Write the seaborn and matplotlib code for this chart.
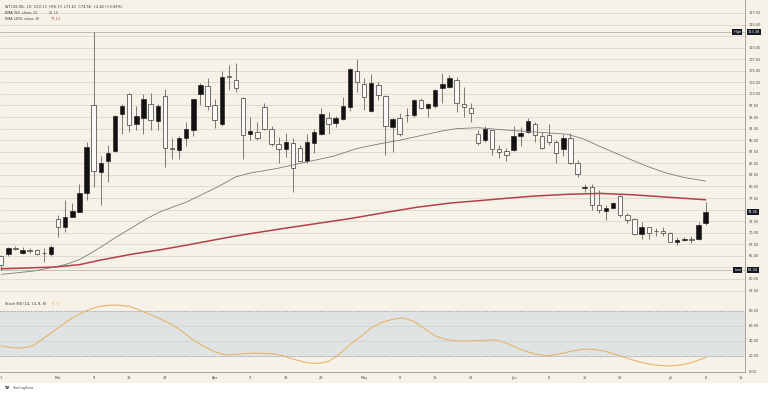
import numpy as np
import pandas as pd
import matplotlib
matplotlib.use("Agg")
import matplotlib.pyplot as plt
import matplotlib.transforms as mtransforms
from matplotlib.patches import Rectangle
import seaborn as sns

# daily candles (black = up, hollow = down)
opens = [65.0, 65.3, 66.8, 65.7, 66.2, 66.3, 65.7, 65.3, 73.05, 71.2,
         73.5, 74.5, 78.5, 97.6, 83.1, 85.5, 87.6, 95.6, 100.0, 93.4,
         94.9, 97.9, 94.1, 99.5, 88.3, 87.8, 90.4, 92.2, 100.0, 101.7,
         97.6, 93.6, 103.8, 103.1, 99.2, 91.3, 91.8, 97.1, 92.5, 89.1,
         88.0, 89.4, 88.3, 85.5, 89.4, 91.4, 94.7, 93.7, 94.5, 97.2,
         105.0, 102.1, 96.3, 101.9, 99.5, 92.9, 94.7, 95.4, 95.4, 98.7,
         96.9, 97.4, 101.2, 101.5, 103.1, 97.9, 96.9, 91.4, 90.0, 92.3,
         88.2, 87.6, 87.8, 90.9, 91.8, 93.6, 90.9, 91.2, 89.6, 88.1,
         90.4, 85.0, 79.7, 79.9, 75.9, 74.8, 75.4, 77.9, 73.8, 73.05,
         69.8, 71.2, 70.45, 70.4, 69.9, 68.0, 68.4, 68.55, 68.6, 72.13]
highs = [65.2, 67.0, 67.2, 66.9, 66.8, 66.5, 66.6, 67.4, 73.8, 77.0,
         76.4, 80.5, 89.6, 113.38, 86.5, 88.9, 95.5, 97.9, 100.2, 97.4,
         100.0, 100.2, 97.9, 101.0, 90.4, 90.9, 94.0, 98.9, 102.3, 103.4,
         98.9, 105.0, 106.2, 106.6, 99.4, 95.0, 94.0, 98.1, 93.0, 90.6,
         91.6, 90.4, 89.0, 91.4, 92.5, 96.9, 96.2, 95.3, 99.4, 105.5,
         107.5, 103.4, 104.4, 102.6, 99.7, 94.7, 95.8, 96.9, 98.9, 99.2,
         98.0, 101.0, 104.6, 104.0, 103.6, 101.5, 98.1, 92.1, 93.0, 92.3,
         89.0, 88.3, 93.0, 92.9, 94.8, 94.0, 91.8, 93.5, 90.1, 91.4,
         91.6, 85.7, 80.6, 80.5, 79.2, 75.9, 76.6, 78.1, 74.3, 73.1,
         72.3, 71.3, 71.1, 71.2, 70.1, 69.0, 69.0, 69.2, 72.3, 76.73]
lows = [62.04, 64.9, 66.2, 65.4, 65.7, 65.2, 63.6, 65.0, 69.0, 70.2,
        73.4, 74.4, 77.0, 79.9, 76.1, 81.0, 87.4, 91.4, 91.8, 92.3,
        91.4, 92.2, 92.2, 84.2, 86.0, 86.0, 88.7, 90.9, 97.6, 96.5,
        92.6, 93.0, 100.8, 100.5, 86.0, 90.0, 90.0, 92.2, 88.7, 85.0,
        86.4, 78.8, 85.4, 85.1, 87.2, 91.1, 91.4, 92.8, 94.3, 96.3,
        100.5, 96.6, 96.1, 98.6, 86.8, 87.5, 90.9, 94.0, 95.1, 96.7,
        95.1, 97.0, 98.1, 101.2, 96.1, 95.0, 94.0, 89.0, 89.7, 86.8,
        86.1, 85.4, 87.7, 88.7, 91.6, 89.7, 88.2, 88.9, 85.0, 86.6,
        84.8, 82.1, 78.8, 74.9, 74.3, 72.8, 75.3, 73.3, 72.2, 69.6,
        68.7, 68.6, 69.4, 69.3, 68.0, 67.3, 68.3, 67.8, 68.4, 71.61]
closes = [63.0, 66.7, 66.5, 66.3, 66.1, 65.5, 65.6, 67.0, 71.2, 73.5,
          74.6, 78.5, 88.5, 83.3, 85.1, 87.3, 95.2, 97.4, 93.2, 95.2,
          98.8, 94.3, 97.4, 88.3, 88.1, 90.4, 92.5, 98.9, 101.9, 97.4,
          94.3, 103.7, 103.6, 101.2, 91.1, 91.9, 90.4, 92.5, 89.1, 88.2,
          89.6, 83.9, 85.5, 89.6, 91.8, 95.6, 93.4, 94.8, 97.4, 105.3,
          102.5, 99.4, 102.4, 99.7, 93.0, 94.5, 91.4, 95.5, 98.7, 96.9,
          97.8, 100.8, 102.1, 103.4, 98.1, 97.1, 95.9, 89.4, 92.5, 88.2,
          87.5, 86.9, 90.9, 91.6, 94.1, 91.1, 88.4, 89.6, 87.3, 90.4,
          85.1, 82.8, 79.9, 75.9, 75.0, 75.4, 76.4, 73.9, 72.7, 69.8,
          71.2, 69.9, 70.35, 70.0, 68.0, 68.5, 68.7, 68.45, 71.75, 74.56]

# moving averages and Stoch RSI %K, sampled along the bars
ema50_bar = [0, 4.5, 7.6, 9.2, 11, 12.5, 14, 16.2, 18.5, 20.4, 22.3, 24.2, 26, 28, 30.3, 33, 35,
             38.8, 42, 46.6, 50, 52.8, 56, 59.3, 62, 64, 67, 70, 74.7, 79.5, 81.8, 84.2, 86.5,
             88.8, 91.2, 93.5, 95.8, 99]
ema50 = [61.0, 61.7, 62.6, 63.2, 64.2, 65.5, 66.9, 69.1, 71.2, 73.0, 74.5, 75.6, 76.6, 78.1,
         79.8, 82.1, 82.9, 83.9, 85.0, 86.5, 88.2, 89.1, 90.0, 91.1, 92.0, 92.5, 92.7, 92.3,
         91.8, 91.3, 90.3, 88.6, 87.1, 85.6, 84.1, 82.9, 82.0, 81.16]
ema200_bar = [0, 4, 7.6, 11, 14, 18.5, 22.3, 26, 29.8, 32.6, 35, 39.6, 44.4, 49, 53.7, 58.4, 63,
              67.7, 71.5, 74.7, 79.5, 84.2, 88.8, 93.5, 99]
ema200 = [62.2, 62.4, 62.6, 63.1, 64.1, 65.4, 66.3, 67.3, 68.4, 69.2, 69.8, 70.9, 72.0, 73.05,
          74.3, 75.5, 76.4, 77.0, 77.5, 77.9, 78.3, 78.5, 78.2, 77.7, 77.12]
stoch_bar = [0, 1.5, 3, 4.5, 6, 7.5, 9, 10.5, 12, 13.5, 15, 16.5, 18, 19.5, 21, 22.5, 24, 25.5,
             27, 28.5, 30, 31.5, 33, 35, 37, 38.5, 40, 41.5, 43, 44.5, 46, 47.5, 49, 50.5, 52,
             53.5, 55, 56.5, 58, 59.5, 61, 62.5, 64, 66, 68, 69.5, 71, 73, 75, 76.7, 78.5, 80,
             81.8, 83.5, 85, 86.5, 88, 89.5, 91, 92.5, 94, 95.5, 97, 99]
stoch_k = [33.3, 31.0, 30.5, 33.5, 43.5, 53.5, 64.0, 73.0, 80.0, 85.0, 87.0, 87.2, 85.5, 80.5,
           74.5, 68.5, 61.5, 52.0, 41.0, 32.5, 25.5, 21.3, 21.8, 23.6, 23.2, 22.7, 19.0, 14.5,
           11.0, 10.0, 12.5, 22.0, 34.7, 45.5, 57.0, 64.5, 68.5, 70.2, 65.7, 56.0, 46.5, 41.5,
           40.0, 40.0, 40.5, 41.3, 37.0, 28.5, 22.5, 20.0, 22.7, 26.0, 28.9, 28.5, 25.8, 21.5,
           16.9, 12.5, 9.3, 7.3, 6.7, 8.0, 11.0, 17.71]

tick_bar = [0, 8, 13, 18, 23, 30, 35, 40, 45, 51, 56, 61, 66, 72, 77, 82, 87, 94, 99, 104]
tick_text = ["1", "Mar", "9", "16", "23", "Apr", "9", "16", "23", "May", "8", "15", "22",
             "Jun", "8", "15", "22", "Jul", "8", "15"]
price_grid = [57.5, 60.0, 62.5, 65.0, 67.5, 70.0, 72.5, 75.0, 77.5, 80.0, 82.5, 85.0, 87.5, 90.0,
              92.5, 95.0, 97.5, 100.0, 102.5, 105.0, 107.5, 110.0, 112.5, 115.0, 117.5]
price_labels = [p for p in price_grid if p not in (62.5, 75.0, 112.5)]
stoch_labels = [0, 20, 40, 60, 80]

BG = "#f6f2e8"
GRID = "#ddd8cc"
FS = 2.5

sns.set_theme(style="white")
plt.rcParams["font.family"] = ["DejaVu Sans"]

df = pd.DataFrame({"bar": range(len(opens)), "open": opens, "high": highs,
                   "low": lows, "close": closes})
df["up"] = df["close"] >= df["open"]
df["bottom"] = df[["open", "close"]].min(axis=1)
df["height"] = (df["close"] - df["open"]).abs().clip(lower=0.12)

fig = plt.figure(figsize=(7.68, 3.94), dpi=100, facecolor="white")
fig.patches.append(Rectangle((0, 1 - 383 / 394), 1, 383 / 394, transform=fig.transFigure,
                             facecolor=BG, edgecolor="none", zorder=-10))

ax = fig.add_axes([0, 1 - 297.5 / 394, 745 / 768, 297.5 / 394])
ax_s = fig.add_axes([0, 1 - 372 / 394, 745 / 768, 74.5 / 394], sharex=ax)
for a in (ax, ax_s):
    a.set_facecolor(BG)
    for side in ("left", "top"):
        a.spines[side].set_visible(False)
    for side in ("right", "bottom"):
        a.spines[side].set_color("#9c9890")
        a.spines[side].set_linewidth(0.6)

# price pane
for p in price_grid:
    ax.axhline(p, color=GRID, lw=0.6, zorder=0)
ax.axhline(113.38, color="#b9b5ac", lw=0.6, zorder=0)
ax.axhline(62.04, color="#b9b5ac", lw=0.6, zorder=0)

ax.vlines(df["bar"], df["low"], df["high"], color="#4a4a4a", lw=0.5, zorder=2)
up = df[df["up"]]
dn = df[~df["up"]]
ax.bar(up["bar"], up["height"], bottom=up["bottom"], width=0.62, color="#121212",
       edgecolor="#121212", linewidth=0.4, zorder=3)
ax.bar(dn["bar"], dn["height"], bottom=dn["bottom"], width=0.62, color="#fbf9f5",
       edgecolor="#3a3a3a", linewidth=0.5, zorder=3)

sns.lineplot(x=ema50_bar, y=ema50, ax=ax, color="#7b7b78", lw=0.6, zorder=4)
sns.lineplot(x=ema200_bar, y=ema200, ax=ax, color="#b5404c", lw=1.1, zorder=4)

ax.set_xlim(-0.166, 104.53)
ax.set_ylim(56.0, 120.3)
ax.yaxis.tick_right()
ax.set_yticks(price_labels)
ax.set_yticklabels([f"{p:.2f}" for p in price_labels])
ax.tick_params(axis="y", length=0, pad=2.5, labelsize=FS, labelcolor="#444444")
ax.tick_params(axis="x", length=0, labelbottom=False)

ytr = mtransforms.blended_transform_factory(ax.transAxes, ax.transData)
box = dict(boxstyle="square,pad=0.3", fc="#131722", ec="none")
for val, name in ((113.38, "High"), (62.04, "Low")):
    ax.text(1.004, val, f"{val:.2f}", transform=ytr, ha="left", va="center", fontsize=FS,
            color="white", bbox=box, clip_on=False, zorder=6)
    ax.text(0.995, val, name, transform=ytr, ha="right", va="center", fontsize=FS,
            color="white", bbox=box, zorder=6)
ax.text(1.004, 74.56, "74.56", transform=ytr, ha="left", va="center", fontsize=FS,
        color="white", bbox=box, clip_on=False, zorder=6)

# Stoch RSI pane
ax_s.axhspan(20, 80, color="#e0e3e3", zorder=0)
for v in (40, 60):
    ax_s.axhline(v, color="#cfd2d2", lw=0.5, zorder=1)
for v in (20, 80):
    ax_s.axhline(v, color="#8f8f8f", lw=0.5, ls=(0, (2, 2)), zorder=1)
sns.lineplot(x=stoch_bar, y=stoch_k, ax=ax_s, color="#e9b46a", lw=0.8, zorder=3)
ax_s.set_ylim(-1.3, 97.3)
ax_s.yaxis.tick_right()
ax_s.set_yticks(stoch_labels)
ax_s.set_yticklabels([f"{v:.2f}" for v in stoch_labels])
ax_s.tick_params(axis="y", length=0, pad=2.5, labelsize=FS, labelcolor="#444444")
ax_s.set_xticks(tick_bar)
ax_s.set_xticklabels(tick_text)
ax_s.tick_params(axis="x", length=0, pad=3, labelsize=FS, labelcolor="#444444")
ax_s.set_xlabel("")
ax_s.set_ylabel("")
ax.set_xlabel("")
ax.set_ylabel("")

# legends in the TradingView style
def px(x, y):
    return x / 768, 1 - y / 394

fig.text(*px(5, 6.5), "WTI US OIL, 1D  O72.13  H76.73  L71.61  C74.56  +2.82 (+3.93%)",
         fontsize=FS, color="#333333", va="center")
fig.text(*px(5, 12.5), "EMA (50, close, 0)", fontsize=FS, color="#333333", va="center")
fig.text(*px(49, 12.5), "81.16", fontsize=FS, color="#666666", va="center")
fig.text(*px(5, 18.5), "EMA (200, close, 0)", fontsize=FS, color="#333333", va="center")
fig.text(*px(51, 18.5), "77.12", fontsize=FS, color="#c0404c", va="center")
fig.text(*px(5, 304), "Stoch RSI (14, 14, 8, 8)", fontsize=FS, color="#333333", va="center")
fig.text(*px(51, 304), "17.71", fontsize=FS, color="#e9b46a", va="center")
fig.text(*px(5, 388), "TV", fontsize=FS, color="#131722", va="center", fontweight="bold")
fig.text(*px(12, 388), "TradingView", fontsize=FS, color="#555555", va="center")

fig.savefig("out.png", dpi=100, facecolor=fig.get_facecolor())
